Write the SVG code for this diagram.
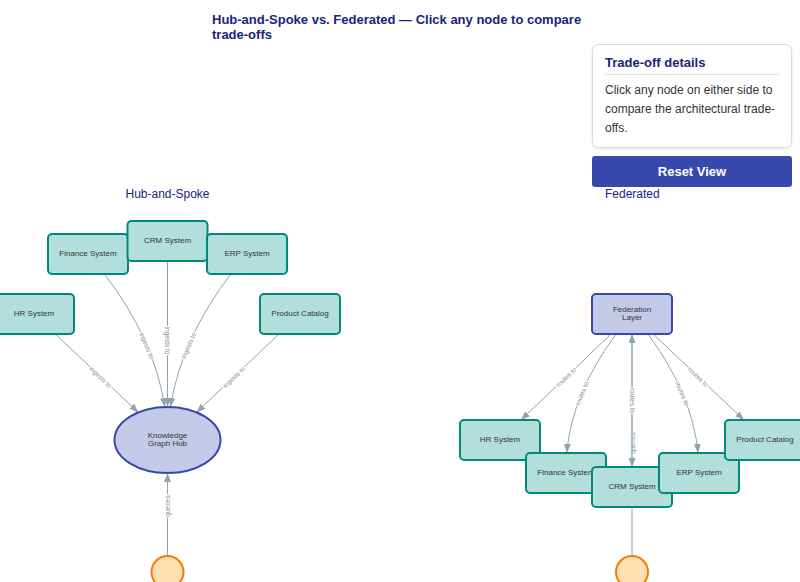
<svg xmlns="http://www.w3.org/2000/svg" width="800" height="582" viewBox="0 0 800 582">
<defs>
<style>
text{font-family:"Liberation Sans",Arial,sans-serif}
.title{font-size:13px;font-weight:bold;fill:#1a237e}
.side{font-size:12px;fill:#1a237e}
.sys rect{fill:#b2dfdb;stroke:#00897b;stroke-width:2}
.hubn{fill:#c5cae9;stroke:#3949ab;stroke-width:2}
.user{fill:#ffe0b2;stroke:#f57c00;stroke-width:2}
.nt{font-size:8px;fill:#333;text-anchor:middle}
.edge{fill:none;stroke:#90a4ae;stroke-width:1;marker-end:url(#arr)}
.el{font-size:6.5px;fill:#78909c;text-anchor:middle;dominant-baseline:central;stroke:#fff;stroke-width:2.5px;paint-order:stroke}
.pt{font-size:13px;font-weight:bold;fill:#1a237e}
.pb{font-size:12px;fill:#333}
</style>
<marker id="arr" markerUnits="userSpaceOnUse" viewBox="0 0 9 7" refX="9" refY="3.5" markerWidth="9" markerHeight="7" orient="auto">
<path d="M0,0 L9,3.5 L0,7 z" fill="#90a4ae"/>
</marker>
<filter id="sh" x="-10%" y="-10%" width="120%" height="130%">
<feDropShadow dx="0" dy="1" stdDeviation="1.5" flood-color="#000" flood-opacity="0.12"/>
</filter>
</defs>
<rect width="800" height="582" fill="#fff"/>

<text class="title" x="212" y="24">Hub-and-Spoke vs. Federated — Click any node to compare</text>
<text class="title" x="212" y="39">trade-offs</text>

<g id="panel">
<rect x="592.5" y="44.5" width="199" height="103" rx="6" fill="#fff" stroke="#d5dbe0" filter="url(#sh)"/>
<text class="pt" x="605" y="67">Trade-off details</text>
<line x1="605" y1="74.5" x2="779" y2="74.5" stroke="#dde2e6"/>
<text class="pb" x="605" y="94">Click any node on either side to</text>
<text class="pb" x="605" y="113">compare the architectural trade-</text>
<text class="pb" x="605" y="131.5">offs.</text>
</g>
<g id="reset">
<rect x="592" y="156" width="200" height="31" rx="3" fill="#3949ab"/>
<text x="692" y="176" text-anchor="middle" font-size="13" font-weight="bold" fill="#fff">Reset View</text>
</g>

<text class="side" x="167.5" y="198" text-anchor="middle">Hub-and-Spoke</text>
<text class="side" x="605" y="198">Federated</text>

<g id="connectors">
<!-- hub side -->
<path class="edge" d="M55.2,334 L138.3,412.4"/>
<text class="el" transform="translate(100.75,377) rotate(43.3)">ingests to</text>
<path class="edge" d="M103.6,273 Q154.3,338.5 164.8,407"/>
<text class="el" transform="translate(147,345.5) rotate(66.9)">ingests to</text>
<path class="edge" d="M167.5,261 L167.5,407"/>
<text class="el" transform="translate(167.5,340.5) rotate(90)">ingests to</text>
<path class="edge" d="M231.5,273 Q181.3,338.5 170.4,407"/>
<text class="el" transform="translate(188.3,345.5) rotate(-66.9)">ingests to</text>
<path class="edge" d="M279,334 L196.5,412.4"/>
<text class="el" transform="translate(233.75,377) rotate(-43.6)">ingests to</text>
<path class="edge" d="M167.5,556 L167.5,473"/>
<text class="el" transform="translate(167.5,506) rotate(-90)">queries</text>
<!-- federated side -->
<path class="edge" d="M611,334 L521,420"/>
<text class="el" transform="translate(566,377) rotate(-43.7)">routes to</text>
<path class="edge" d="M616.1,334 Q572,393.5 566.7,453"/>
<text class="el" transform="translate(581.7,393.5) rotate(-67.5)">routes to</text>
<path class="edge" d="M632,556 L632,334"/>
<text class="el" transform="translate(632,443) rotate(-90)">queries</text>
<path class="edge" d="M632,334 L632,467"/>
<text class="el" transform="translate(632,400.5) rotate(90)">routes to</text>
<path class="edge" d="M647.9,334 Q692.1,393.5 698.1,453"/>
<text class="el" transform="translate(682.5,393.5) rotate(67.1)">routes to</text>
<path class="edge" d="M653.1,334 L743.9,420"/>
<text class="el" transform="translate(698.5,377) rotate(43.5)">routes to</text>
</g>

<!-- hub-and-spoke nodes -->
<g id="hs-finance" class="sys"><rect x="48" y="234" width="80" height="40" rx="4"/><text class="nt" x="88" y="256">Finance System</text></g>
<g id="hs-crm" class="sys"><rect x="127.5" y="221" width="80" height="40" rx="4"/><text class="nt" x="167.5" y="243">CRM System</text></g>
<g id="hs-erp" class="sys"><rect x="207" y="234" width="80" height="40" rx="4"/><text class="nt" x="247" y="256">ERP System</text></g>
<g id="hs-hr" class="sys"><rect x="-6" y="294" width="80" height="40" rx="4"/><text class="nt" x="34" y="316">HR System</text></g>
<g id="hs-product" class="sys"><rect x="260" y="294" width="80" height="40" rx="4"/><text class="nt" x="300" y="316">Product Catalog</text></g>
<g id="hs-hub"><ellipse class="hubn" cx="167.5" cy="440" rx="53" ry="33"/><text class="nt" x="167.5" y="438">Knowledge</text><text class="nt" x="167.5" y="446">Graph Hub</text></g>
<g id="hs-user"><circle class="user" cx="167.5" cy="572" r="16"/></g>

<!-- federated nodes -->
<g id="fed-layer"><rect class="hubn" x="592" y="294" width="80" height="40" rx="4"/><text class="nt" x="632" y="312">Federation</text><text class="nt" x="632" y="320">Layer</text></g>
<g id="fed-hr" class="sys"><rect x="460" y="420" width="80" height="40" rx="4"/><text class="nt" x="500" y="442">HR System</text></g>
<g id="fed-finance" class="sys"><rect x="526" y="453" width="80" height="40" rx="4"/><text class="nt" x="566" y="475">Finance System</text></g>
<g id="fed-crm" class="sys"><rect x="592" y="467" width="80" height="40" rx="4"/><text class="nt" x="632" y="489">CRM System</text></g>
<g id="fed-erp" class="sys"><rect x="659" y="453" width="80" height="40" rx="4"/><text class="nt" x="699" y="475">ERP System</text></g>
<g id="fed-product" class="sys"><rect x="725" y="420" width="80" height="40" rx="4"/><text class="nt" x="765" y="442">Product Catalog</text></g>
<g id="fed-user"><circle class="user" cx="632" cy="572" r="16"/></g>
</svg>
